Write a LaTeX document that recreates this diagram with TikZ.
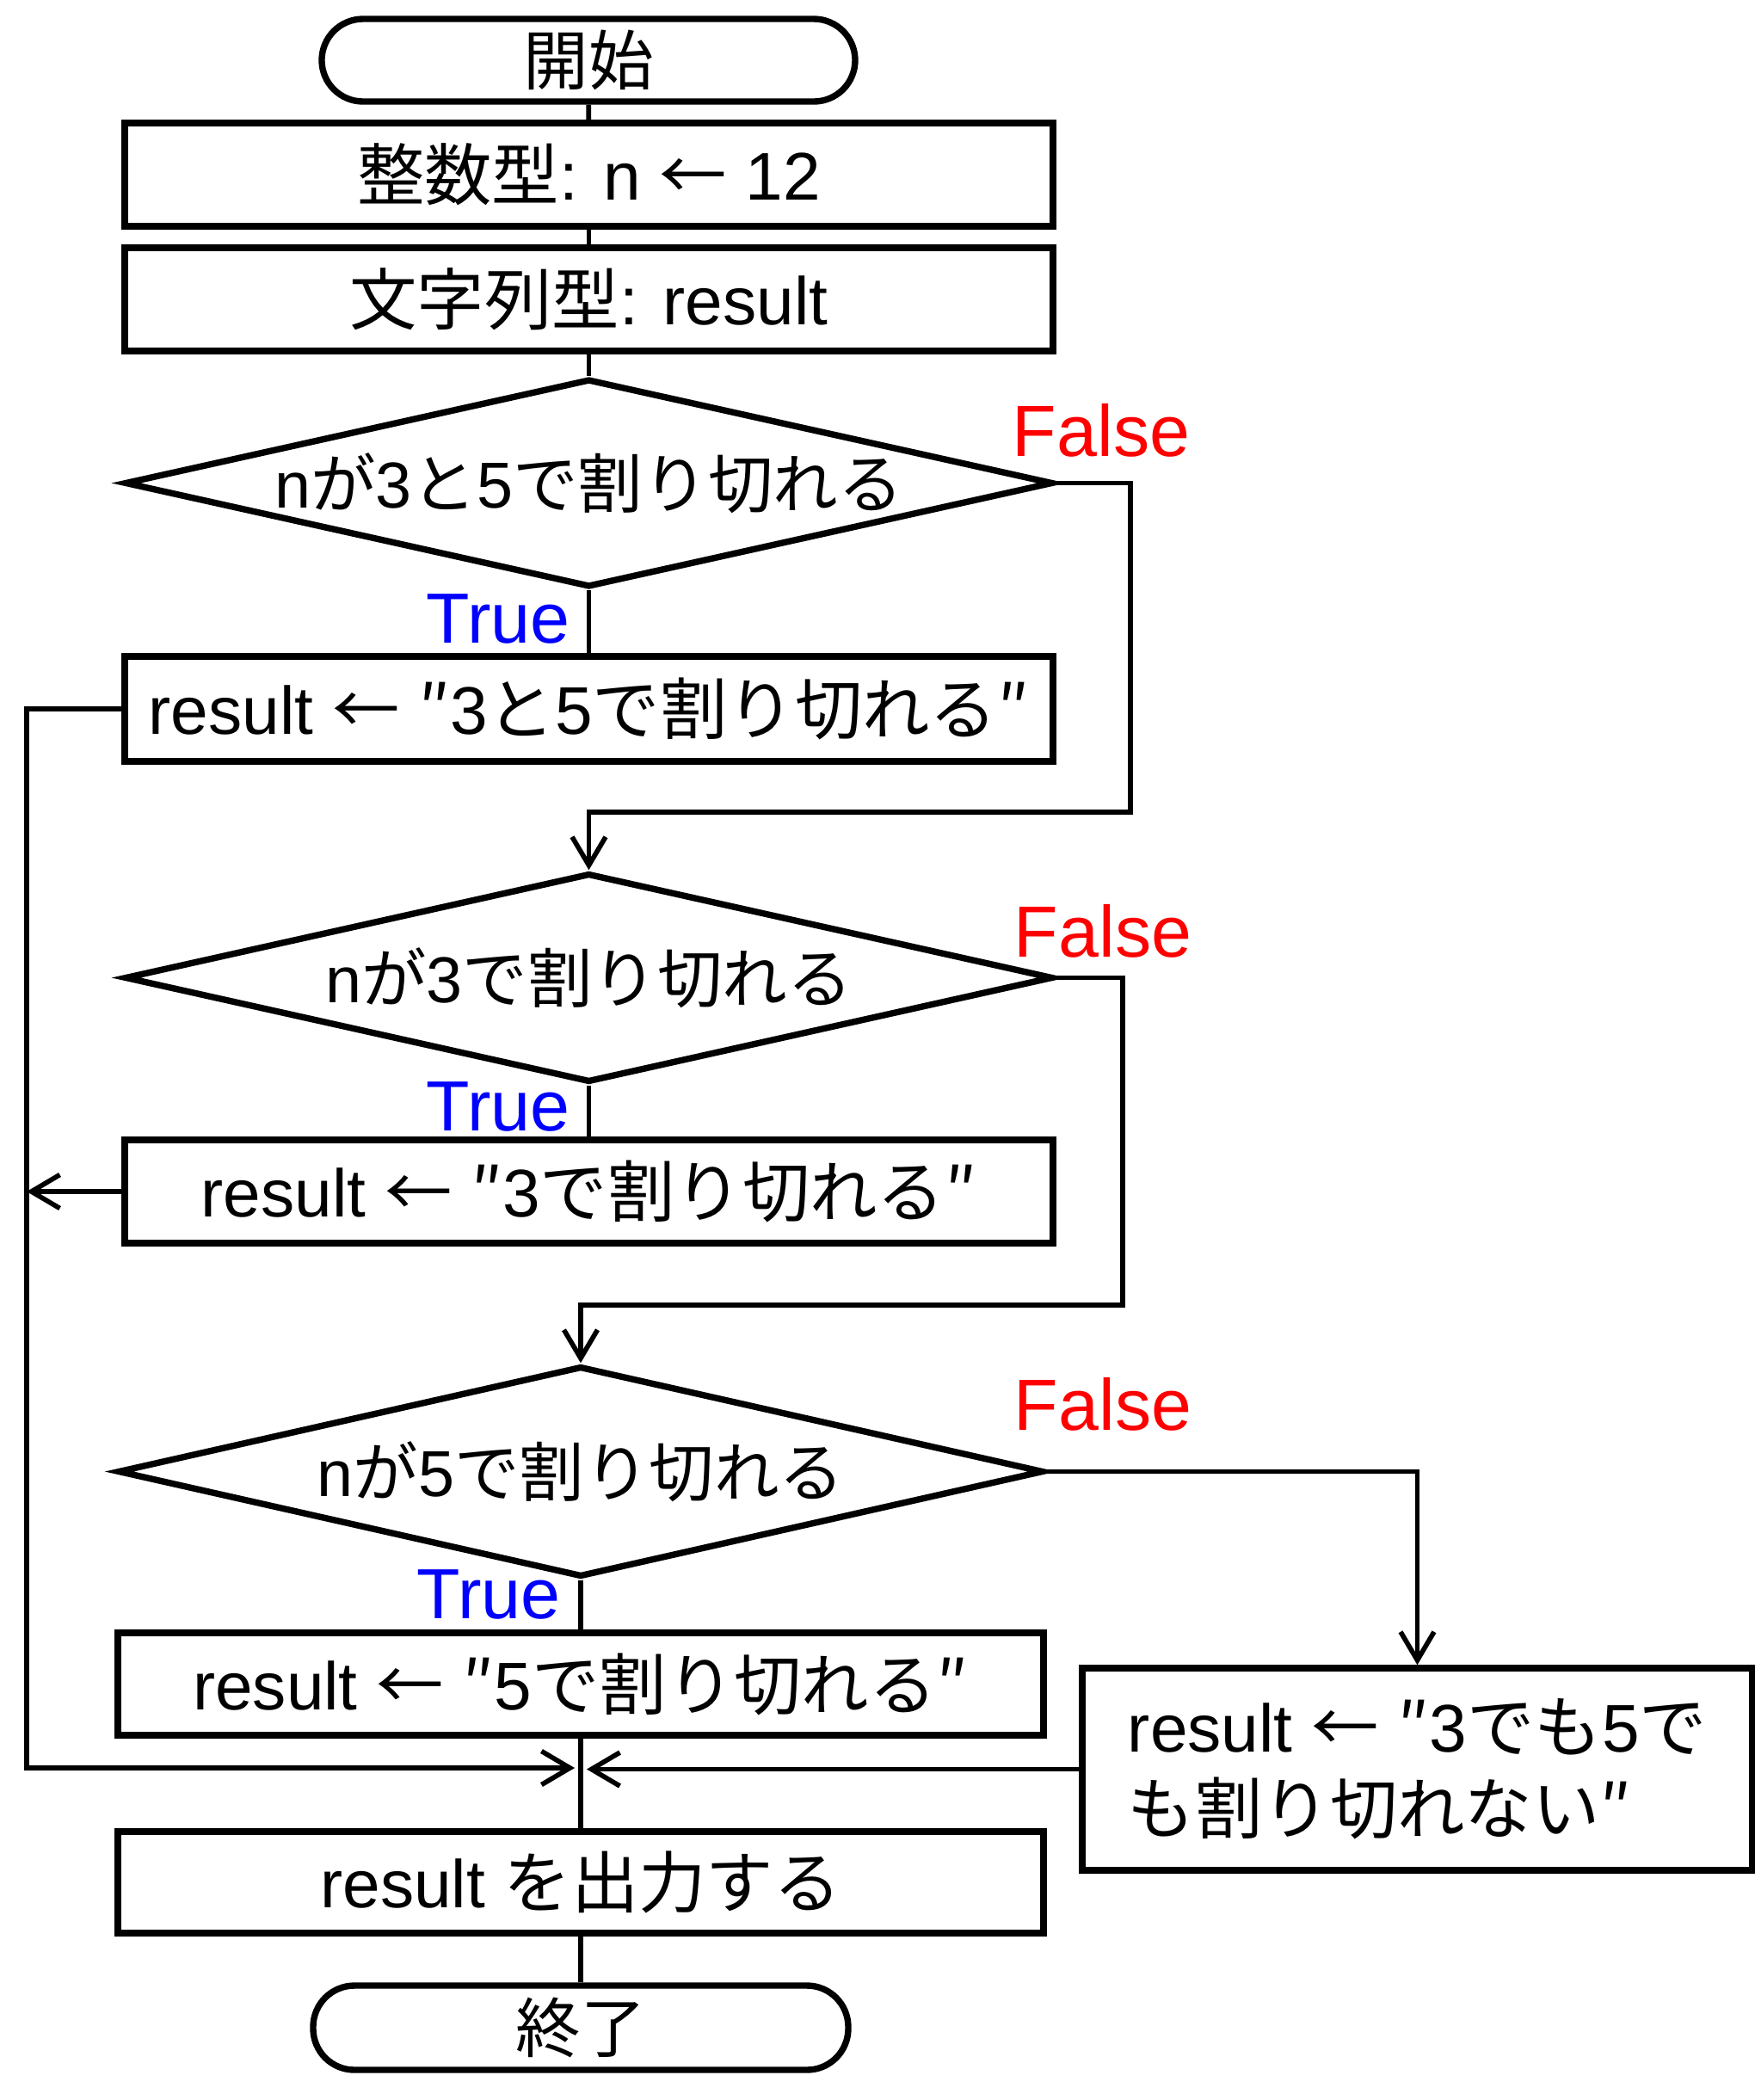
\documentclass[tikz,border=0pt]{standalone}
\usepackage{fontspec}
\setmainfont{Liberation Sans}
\newfontfamily\jp{Noto Sans CJK JP}
\usetikzlibrary{arrows.meta,shapes.geometric}
\begin{document}
\begin{tikzpicture}[
        >={Straight Barb[length=3.3mm,width=3.9mm]},
        every node/.style={font=\fontsize{22.3pt}{27pt}\selectfont},
        termbox/.style={draw, line width=2.1pt, rectangle, rounded corners=0.48cm, minimum width=6.2cm, minimum height=0.96cm, inner sep=0pt, font=\fontsize{21.5pt}{26pt}\selectfont},
        procbox/.style={draw, line width=2.1pt, rectangle, minimum width=10.79cm, minimum height=1.2cm, inner sep=0pt},
        decision/.style={draw, line width=2.1pt, diamond, minimum width=10.79cm, minimum height=2.42cm, inner sep=0pt},
        dtext/.style={font=\fontsize{21.5pt}{26pt}\selectfont},
        falselbl/.style={text=red, font=\fontsize{24pt}{28pt}\selectfont},
        truelbl/.style={text=blue, font=\fontsize{23.5pt}{28pt}\selectfont},
        flow/.style={line width=1.6pt}
    ]
        \useasboundingbox (0,0) rectangle (20.4,-24.41);

        \node[termbox] (start) at (6.84,-0.70) {\jp 開始};
        \node[procbox] (int) at (6.845,-2.03) {{\jp 整数型}: n {\jp ←} 12};
        \node[procbox] (str) at (6.845,-3.48) {{\jp 文字列型}: result};

        \node[decision] (d1) at (6.845,-5.615) {};
        \node[dtext] (d1t) at (d1) {n{\jp が}3{\jp と}5{\jp で割り切れる}};
        \node[procbox, minimum height=1.22cm] (r1) at (6.845,-8.24) {result {\jp ←} {\jp ″}3{\jp と}5{\jp で割り切れる″}};

        \node[decision, minimum height=2.43cm] (d2) at (6.845,-11.365) {};
        \node[dtext] (d2t) at (d2) {n{\jp が}3{\jp で割り切れる}};
        \node[procbox] (r2) at (6.845,-13.85) {result {\jp ←} {\jp ″}3{\jp で割り切れる″}};

        \node[decision, minimum width=10.76cm, minimum height=2.45cm] (d3) at (6.75,-17.105) {};
        \node[dtext] (d3t) at (d3) {n{\jp が}5{\jp で割り切れる}};
        \node[procbox, minimum width=10.76cm, minimum height=1.19cm] (r3) at (6.75,-19.575) {result {\jp ←} {\jp ″}5{\jp で割り切れる″}};
        \node[procbox, minimum width=7.79cm, minimum height=2.35cm, align=left] (r4) at (16.475,-20.565)
            {result {\jp ←} {\jp ″}3{\jp でも}5{\jp で}\\{\jp も割り切れない″}};

        \node[procbox, minimum width=10.76cm, minimum height=1.18cm] (out) at (6.75,-21.88) {result {\jp を出力する}};
        \node[termbox, minimum width=6.22cm, minimum height=0.98cm] (stop) at (6.75,-23.57) {\jp 終了};

        \node[falselbl] (f1l) at (12.80,-5.00) {False};
        \node[falselbl] (f2l) at (12.82,-10.82) {False};
        \node[falselbl] (f3l) at (12.82,-16.32) {False};
        \node[truelbl] (t1l) at (5.79,-7.19) {True};
        \node[truelbl] (t2l) at (5.79,-12.86) {True};
        \node[truelbl] (t3l) at (5.68,-18.53) {True};

        \coordinate (f1) at (13.14,-9.44);
        \coordinate (f2) at (13.05,-15.17);
        \coordinate (lp) at (0.31,-20.55);
        \coordinate (j) at (r3.south |- lp);

        \draw[flow] (start) -- (int);
        \draw[flow] (int) -- (str);
        \draw[flow] (str) -- (d1.north);
        \draw[flow] (d1.south) -- (r1.north);
        \draw[flow, ->] (d1.east) -| (f1) -- (f1 -| d2.north) -- (d2.north);
        \draw[flow] (d2.south) -- (r2.north);
        \draw[flow, ->] (d2.east) -| (f2) -- (f2 -| d3.north) -- (d3.north);
        \draw[flow] (d3.south) -- (r3.north);
        \draw[flow, ->] (d3.east) -| (r4.north);
        \draw[flow, ->] (r1.west) -| (lp) -- ([xshift=-0.7mm]j);
        \draw[flow, ->] (r2.west) -- (r2.west -| lp);
        \draw[flow, ->] (r4.west) -- ([xshift=0.7mm]r4.west -| j);
        \draw[flow] (r3.south) -- (out.north);
        \draw[flow] (out.south) -- (stop.north);
    \end{tikzpicture}
\end{document}
